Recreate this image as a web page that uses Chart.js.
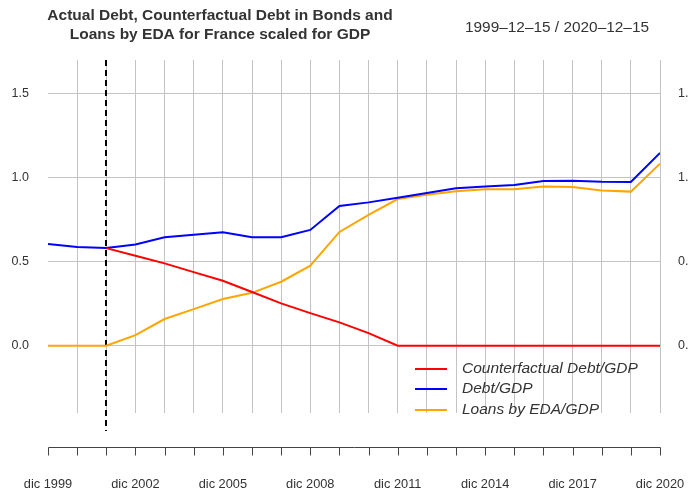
<!DOCTYPE html>
<html>
<head>
<meta charset="utf-8">
<script src="https://cdn.jsdelivr.net/npm/chart.js@4/dist/chart.umd.min.js"></script>
<style>
  html, body { margin: 0; padding: 0; background: #fff; }
  #wrap { width: 688px; height: 495px; }
</style>
</head>
<body>
<div id="wrap"><canvas id="grafico" width="688" height="495"></canvas></div>
<script>
// annual observations, dic 1999 .. dic 2020
const anos = [1999, 2000, 2001, 2002, 2003, 2004, 2005, 2006, 2007, 2008, 2009,
              2010, 2011, 2012, 2013, 2014, 2015, 2016, 2017, 2018, 2019, 2020]

const contrafactual = [null, null, 0.581, 0.536, 0.490, 0.438, 0.387, 0.320, 0.252, 0.194, 0.139,
                       0.075, 0, 0, 0, 0, 0, 0, 0, 0, 0, 0]
const divida = [0.605, 0.587, 0.581, 0.603, 0.645, 0.661, 0.675, 0.645, 0.645, 0.689, 0.831,
                0.853, 0.881, 0.909, 0.937, 0.948, 0.956, 0.980, 0.982, 0.976, 0.974, 1.147]
const emprestimos = [0, 0, 0, 0.063, 0.159, 0.218, 0.278, 0.315, 0.381, 0.476, 0.677,
                     0.778, 0.873, 0.899, 0.919, 0.931, 0.931, 0.948, 0.944, 0.923, 0.917, 1.083]

const nomes = ["Counterfactual Debt/GDP", "Debt/GDP", "Loans by EDA/GDP"]
const cores = ["#ff0000", "#0000ff", "#ffa500"]
const yTicks = [0, 0.5, 1.0, 1.5]
const xLabelAnos = [1999, 2002, 2005, 2008, 2011, 2014, 2017, 2020]
const anoQuebra = 2001

const fonte = "'Liberation Sans', Arial, Helvetica, sans-serif"

function serie(valores) {
    return anos.map((a, i) => ({ x: a, y: valores[i] }))
}

const extras = {
    id: "extras",
    beforeDatasetsDraw(chart) {
        const ctx = chart.ctx
        const x = chart.scales.x
        const px = Math.round(x.getPixelForValue(anoQuebra))
        ctx.save()
        ctx.strokeStyle = "#000"
        ctx.lineWidth = 2
        ctx.setLineDash([6, 4])
        ctx.beginPath()
        ctx.moveTo(px, chart.chartArea.top)
        ctx.lineTo(px, 431)
        ctx.stroke()
        ctx.restore()
    },
    afterDraw(chart) {
        const ctx = chart.ctx
        const x = chart.scales.x
        ctx.save()

        // eixo x separado
        const yEixo = 447.5
        ctx.strokeStyle = "#444"
        ctx.lineWidth = 1
        ctx.beginPath()
        ctx.moveTo(Math.round(x.getPixelForValue(anos[0])) + 0.5, yEixo)
        ctx.lineTo(Math.round(x.getPixelForValue(anos[anos.length - 1])) + 0.5, yEixo)
        anos.forEach(a => {
            const p = Math.round(x.getPixelForValue(a)) + 0.5
            ctx.moveTo(p, yEixo)
            ctx.lineTo(p, yEixo + 8)
        })
        ctx.stroke()

        ctx.fillStyle = "#333"
        ctx.font = "12.8px " + fonte
        ctx.textAlign = "center"
        ctx.textBaseline = "middle"
        xLabelAnos.forEach(a => {
            ctx.fillText("dic " + a, x.getPixelForValue(a), 484)
        })

        // legenda
        const linhasY = [369, 389, 410]
        ctx.font = "italic 15.5px " + fonte
        ctx.textAlign = "left"
        nomes.forEach((n, i) => {
            ctx.strokeStyle = cores[i]
            ctx.lineWidth = 2
            ctx.beginPath()
            ctx.moveTo(415, linhasY[i])
            ctx.lineTo(447, linhasY[i])
            ctx.stroke()
            ctx.fillStyle = "#333"
            ctx.fillText(n, 462, linhasY[i])
        })

        // titulo
        ctx.fillStyle = "#333"
        ctx.font = "bold 15.5px " + fonte
        ctx.textAlign = "center"
        ctx.fillText("Actual Debt, Counterfactual Debt in Bonds and", 220, 16)
        ctx.fillText("Loans by EDA for France scaled for GDP", 220, 35)
        ctx.font = "15.4px " + fonte
        ctx.fillText("1999\u201312\u201315 / 2020\u201312\u201315", 557, 28)

        ctx.restore()
    }
}

function grafico() {
    const el = document.getElementById("grafico").getContext("2d")

    new Chart(el, {
        type: "line",
        data: {
            datasets: [
                { label: nomes[0], data: serie(contrafactual), borderColor: cores[0] },
                { label: nomes[1], data: serie(divida), borderColor: cores[1] },
                { label: nomes[2], data: serie(emprestimos), borderColor: cores[2] }
            ]
        },
        options: {
            responsive: false,
            animation: false,
            devicePixelRatio: 1,
            layout: { padding: { top: 60, left: 0, right: 0, bottom: 0 } },
            elements: {
                line: { borderWidth: 2, tension: 0, fill: false },
                point: { radius: 0 }
            },
            plugins: {
                legend: { display: false },
                title: { display: false },
                tooltip: { enabled: false }
            },
            scales: {
                x: {
                    type: "linear",
                    min: 1999,
                    max: 2020,
                    afterBuildTicks: s => { s.ticks = anos.map(a => ({ value: a })) },
                    afterFit: s => { s.height = 82 },
                    ticks: { display: false },
                    border: { display: false },
                    grid: {
                        drawTicks: false,
                        color: c => c.tick && c.tick.value === 1999 ? "rgba(0,0,0,0)" : "#c4c4c4",
                        lineWidth: 1
                    }
                },
                y: {
                    position: "left",
                    min: -0.4,
                    max: 1.7,
                    afterBuildTicks: s => { s.ticks = yTicks.map(v => ({ value: v })) },
                    afterFit: s => { s.width = 48 },
                    border: { display: false },
                    grid: { drawTicks: false, color: "#c4c4c4", lineWidth: 1 },
                    ticks: {
                        padding: 19,
                        color: "#333",
                        font: { family: fonte, size: 12.5 },
                        callback: v => v.toFixed(1)
                    }
                },
                y2: {
                    position: "right",
                    min: -0.4,
                    max: 1.7,
                    afterBuildTicks: s => { s.ticks = yTicks.map(v => ({ value: v })) },
                    afterFit: s => { s.width = 28 },
                    border: { display: false },
                    grid: { display: false, drawTicks: false },
                    ticks: {
                        padding: 18,
                        color: "#333",
                        font: { family: fonte, size: 12.5 },
                        callback: v => v.toFixed(1)
                    }
                }
            }
        },
        plugins: [extras]
    })
}

grafico()
</script>
</body>
</html>
